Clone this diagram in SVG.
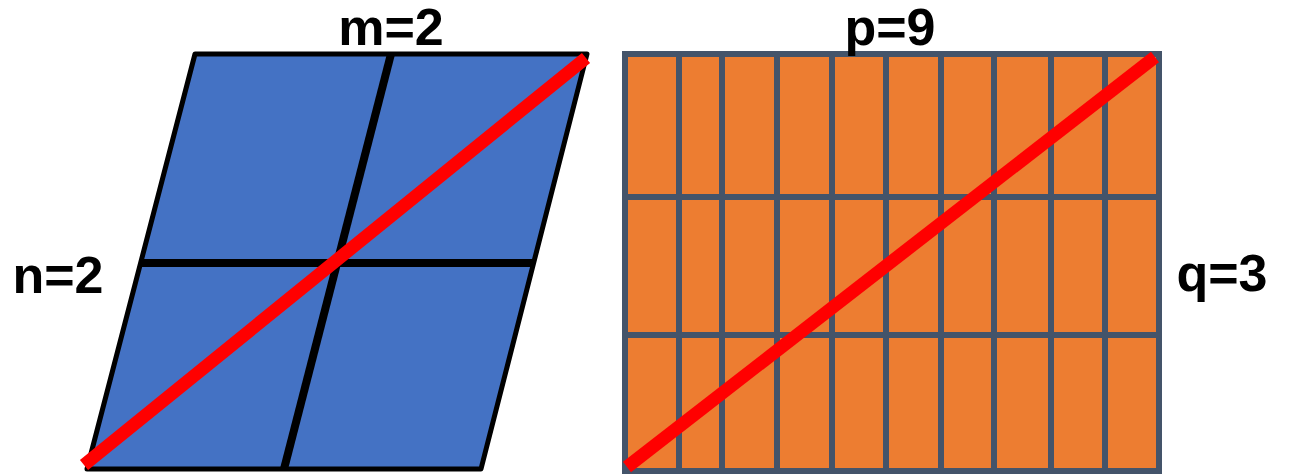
<svg xmlns="http://www.w3.org/2000/svg" width="1294" height="474" viewBox="0 0 1294 474">
<style>
.cell{fill:#4472C4;stroke:#000;stroke-width:5;stroke-linejoin:round}
.inner{stroke:#000;stroke-width:8;fill:none}
.ocell{fill:#ED7D31}
.grid{stroke:#44546A;stroke-width:6;fill:none}
.diag{stroke:#FF0000;stroke-width:13;stroke-linecap:butt}
.lbl{font-family:"Liberation Sans",Arial,sans-serif;font-weight:bold;font-size:52px;fill:#000;text-anchor:middle}
</style>
<rect width="1294" height="474" fill="#fff"/>
<g id="parallelogram">
<polygon class="cell" points="195,54 587,54 481,469 87,469"/>
<line class="inner" x1="391" y1="54" x2="284" y2="469"/>
<line class="inner" x1="141" y1="263" x2="534" y2="263"/>
</g>
<g id="grid">
<rect class="ocell" x="625" y="54" width="534" height="420"/>
<path class="grid" d="M625,474 V54 H1159 V474 M625,197 H1159 M625,335 H1159 M625,471 H1159 M679,54 V474 M722,54 V474 M777,54 V474 M832,54 V474 M886,54 V474 M941,54 V474 M994,54 V474 M1051,54 V474 M1105,54 V474"/>
</g>
<g id="connectors">
<line class="diag" x1="84" y1="465" x2="586" y2="58"/>
<line class="diag" x1="627" y1="467" x2="1155" y2="57"/>
</g>
<g id="labels">
<text class="lbl" x="391" y="45">m=2</text>
<text class="lbl" x="890" y="45">p=9</text>
<text class="lbl" x="58" y="293">n=2</text>
<text class="lbl" x="1222" y="291">q=3</text>
</g>
</svg>
